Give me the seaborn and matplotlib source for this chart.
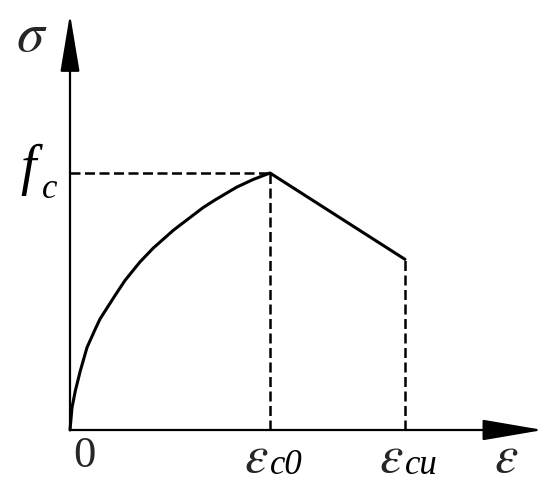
import matplotlib
matplotlib.use("Agg")
import matplotlib.pyplot as plt
import seaborn as sns
import pandas as pd

sns.set_theme(style="white")
plt.rcParams["mathtext.fontset"] = "stix"
plt.rcParams["font.family"] = ["Liberation Serif", "DejaVu Serif"]

# Data (strain, stress normalised by f_c)
eps_c0 = 0.002
eps_cu = 0.00335
f_c = 1.0
sigma_cu = 0.664
# ascending branch (fraction of eps_c0, fraction of f_c)
asc_eta = [0.0, 0.01, 0.0265, 0.0515, 0.085, 0.1265, 0.15, 0.2265, 0.275,
           0.35, 0.4165, 0.5165, 0.55, 0.6665, 0.725, 0.8335, 0.9165, 1.0]
asc_s = [0.0, 0.087, 0.152, 0.230, 0.321, 0.393, 0.432, 0.525, 0.582,
         0.654, 0.708, 0.777, 0.797, 0.866, 0.895, 0.945, 0.975, 1.0]
origin_label = "0"
x_labels_main = [r"$\varepsilon$", r"$\varepsilon$"]
x_labels_sub = ["c0", "cu"]
y_label_main = "f"
y_label_sub = "c"
axis_x_label = r"$\varepsilon$"
axis_y_label = r"$\sigma$"

strain = [e * eps_c0 for e in asc_eta] + [eps_cu]
stress = [s * f_c for s in asc_s] + [sigma_cu]
df = pd.DataFrame({"strain": strain, "stress": stress})

fig = plt.figure(figsize=(5.5, 4.83), dpi=100)
ax = fig.add_axes([0, 0, 1, 1])
ax.axis("off")
# pixel layout: origin at (70, 430), eps_c0 -> 200 px, f_c -> 257 px
OX, OY = 70.0, 430.0
xs = eps_c0 / 200.0
ys = f_c / 257.0
ax.set_xlim(-OX * xs, (550 - OX) * xs)
ax.set_ylim(-(483 - OY) * ys, OY * ys)


def px(x):
    return (x - OX) * xs


def py(y):
    return (OY - y) * ys


sns.lineplot(data=df, x="strain", y="stress", sort=False, estimator=None,
             color="black", lw=2.2, ax=ax)

# dashed guides
dash = (0, (4.0, 1.8))
ax.plot([0, eps_c0], [f_c, f_c], color="black", lw=1.8, linestyle=dash)
ax.plot([eps_c0, eps_c0], [0, f_c], color="black", lw=1.8, linestyle=dash)
ax.plot([eps_cu, eps_cu], [0, sigma_cu], color="black", lw=1.8, linestyle=dash)

# axes with arrows
arrow = dict(arrowstyle="-|>,head_length=36,head_width=6", lw=1.6,
             color="black", shrinkA=0, shrinkB=0, mutation_scale=1)
ax.annotate("", xy=(0, py(14)), xytext=(0, 0), arrowprops=arrow)
arrow2 = dict(arrowstyle="-|>,head_length=38,head_width=6.5", lw=1.6,
              color="black", shrinkA=0, shrinkB=0, mutation_scale=1)
ax.annotate("", xy=(px(543), 0), xytext=(0, 0), arrowprops=arrow2)

ital = dict(fontstyle="italic", family="Liberation Serif", color="black")
small = 25

ax.text(px(84), py(467), origin_label, fontsize=32, ha="center",
        va="baseline", family="Liberation Serif")
for xv, m, s in zip([eps_c0, eps_cu], x_labels_main, x_labels_sub):
    x0 = xv / xs + OX
    ax.text(px(x0 - 26), py(472), m, fontsize=38, ha="left", va="baseline")
    ax.text(px(x0), py(474), s, fontsize=small, ha="left", va="baseline", **ital)
ax.text(px(506), py(472), axis_x_label, fontsize=38, ha="center", va="baseline")
ax.text(px(32), py(51), axis_y_label, fontsize=40, ha="center", va="baseline")
ax.text(px(20), py(184), y_label_main, fontsize=40, ha="left",
        va="baseline", **ital)
ax.text(px(42), py(198), y_label_sub, fontsize=small, ha="left",
        va="baseline", **ital)

fig.savefig("out.png", dpi=100, facecolor="white")
